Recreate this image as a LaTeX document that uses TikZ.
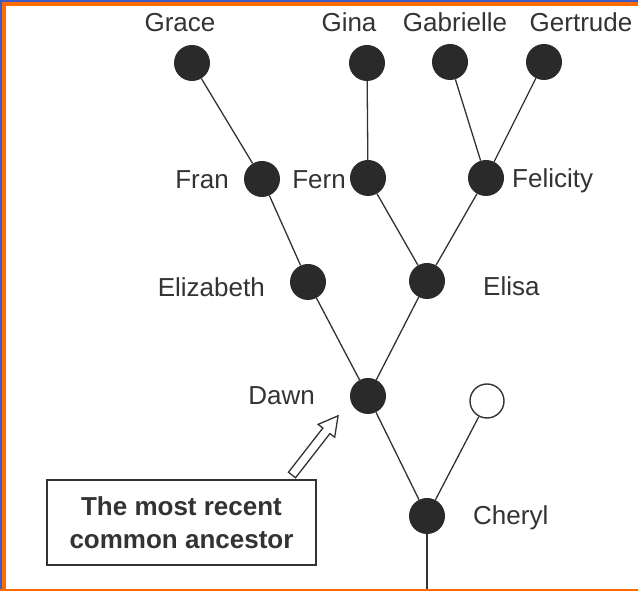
\documentclass[tikz,border=0pt]{standalone}
\usepackage{fontspec}
\setmainfont{Liberation Sans}
\definecolor{ink}{HTML}{2A2A2A}
\definecolor{txt}{HTML}{333333}
\definecolor{frameblue}{HTML}{3F5CC4}
\definecolor{frameorange}{HTML}{FF6A00}
\begin{document}
\begin{tikzpicture}[x=1pt,y=1pt,
  person/.style={circle,fill=ink,draw=none,minimum size=36pt,inner sep=0pt},
  unknown/.style={circle,fill=white,draw=txt,line width=1.4pt,minimum size=34pt,inner sep=0pt},
  lineage/.style={draw=txt,line width=1.3pt},
  namelabel/.style={inner sep=0pt,text=txt,font=\fontsize{26}{30}\selectfont}]
% page and frame
\useasboundingbox (0,0) rectangle (638,591);
\fill[white] (0,0) rectangle (638,591);
\fill[frameblue] (0,589) rectangle (638,591);
\fill[frameorange] (0,585) rectangle (638,589);
\fill[frameblue] (0,0) rectangle (2,591);
\fill[frameorange] (2,0) rectangle (6,585);
\fill[frameorange] (0,0) rectangle (638,2);

% individuals
\node[person] (grace) at (192,528) {};
\node[person] (gina) at (367,528) {};
\node[person] (gabrielle) at (450,529) {};
\node[person] (gertrude) at (544,529) {};
\node[person] (fran) at (262,412) {};
\node[person] (fern) at (368,413) {};
\node[person] (felicity) at (486,413) {};
\node[person] (elizabeth) at (308,309) {};
\node[person] (elisa) at (427,310) {};
\node[person] (dawn) at (368,195) {};
\node[unknown] (other) at (487,190) {};
\node[person] (cheryl) at (427,75) {};
\coordinate (root) at (427,2);

% lines of descent
\draw[lineage] (grace) -- (fran);
\draw[lineage] (fran) -- (elizabeth);
\draw[lineage] (elizabeth) -- (dawn);
\draw[lineage] (gina) -- (fern);
\draw[lineage] (fern) -- (elisa);
\draw[lineage] (gabrielle) -- (felicity);
\draw[lineage] (gertrude) -- (felicity);
\draw[lineage] (felicity) -- (elisa);
\draw[lineage] (elisa) -- (dawn);
\draw[lineage] (dawn) -- (cheryl);
\draw[lineage] (other) -- (cheryl);
\draw[lineage] (cheryl) -- (root);

% names
\node[namelabel,anchor=base] (lgrace) at (180,559) {Grace};
\node[namelabel,anchor=base] (lgina) at (349,559) {Gina};
\node[namelabel,anchor=base] (lgabrielle) at (455,559) {Gabrielle};
\node[namelabel,anchor=base] (lgertrude) at (581,559) {Gertrude};
\node[namelabel,anchor=base east] (lfran) at (229,402) {Fran};
\node[namelabel,anchor=base east] (lfern) at (346,402) {Fern};
\node[namelabel,anchor=base west] (lfelicity) at (512,403) {Felicity};
\node[namelabel,anchor=base east] (lelizabeth) at (265,294) {Elizabeth};
\node[namelabel,anchor=base west] (lelisa) at (483,295) {Elisa};
\node[namelabel,anchor=base east] (ldawn) at (315,186) {Dawn};
\node[namelabel,anchor=base west] (lcheryl) at (473,66) {Cheryl};

% caption box with hollow arrow toward the ancestor
\node[draw=txt,line width=1.4pt,minimum width=269pt,minimum height=85pt,inner sep=0pt,
      align=center,text=txt,font=\bfseries\fontsize{26}{33}\selectfont]
      (note) at (181.5,68.5) {The most recent\\common ancestor};
\coordinate (arrowtail) at (292,116);
\coordinate (arrowtip) at (338,175);
\begin{scope}[shift={(arrowtail)},rotate=52.1]
\filldraw[fill=white,draw=txt,line width=1.3pt,line join=miter]
  (0,-4.5) -- (56,-4.5) -- (56,-10.5) -- (75,0) -- (56,10.5) -- (56,4.5) -- (0,4.5) -- cycle;
\end{scope}
\end{tikzpicture}
\end{document}
